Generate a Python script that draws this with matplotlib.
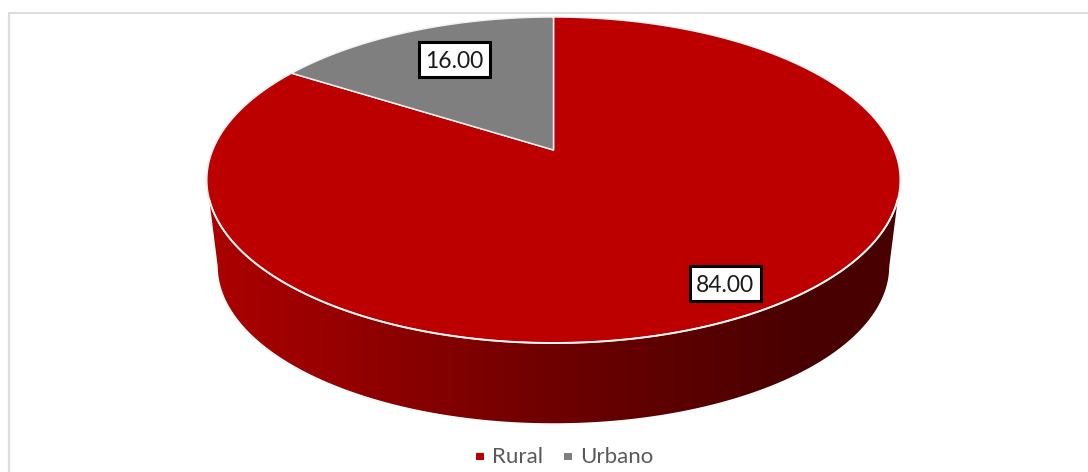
import numpy as np
import matplotlib.pyplot as plt
from matplotlib.patches import Polygon, Rectangle
from matplotlib.colors import LinearSegmentedColormap

labels = ["Rural", "Urbano"]
values = [84.00, 16.00]
value_text = ["84.00", "16.00"]
colors = ["#BC0000", "#7F7F7F"]

plt.rcParams['font.family'] = ['Lato', 'DejaVu Sans']

fig = plt.figure(figsize=(10.88, 4.72), dpi=100)
ax = fig.add_axes([0, 0, 1, 1])
ax.set_xlim(0, 1088)
ax.set_ylim(472, 0)
ax.axis('off')

# tilted disc: circle seen in perspective, so the centre sits above the middle
cx = 553.5
cy = 150
k = 0.184
def disc(t, scale_x=340.8, scale_y=157.5, y0=cy):
    u = np.sin(t)
    v = np.cos(t)
    d = 1 + k * v
    return np.column_stack([cx + scale_x * u / d, y0 - scale_y * v / d])

# chart frame
ax.plot([8.5, 8.5, 1088], [472, 12.5, 12.5], color="#DEDEDE", lw=1.6, zorder=1)

# side wall with gradient, clipped to the outline
top_rim = disc(np.linspace(np.pi / 2 + 0.3, 3 * np.pi / 2 - 0.3, 200))
low_rim = disc(np.linspace(np.pi / 2 + 0.19, 3 * np.pi / 2 - 0.19, 200), 330.0, 152.0, 237.0)
wall = np.vstack([top_rim, low_rim[::-1]])
cmap = LinearSegmentedColormap.from_list("wall", [(0, "#AC0000"), (0.2, "#950000"), (0.5, "#6E0000"), (0.85, "#4A0000"), (1, "#480000")])
im = ax.imshow(np.linspace(0, 1, 256)[None, :], extent=(207, 900, 472, 0), cmap=cmap, aspect='auto', zorder=2)
patch = Polygon(wall, closed=True, transform=ax.transData, fc='none', ec='none')
ax.add_patch(patch)
im.set_clip_path(patch)
ax.set_xlim(0, 1088)
ax.set_ylim(472, 0)

# slices, clockwise from the top, Rural first
start = 0.0
total = sum(values)
for val, col in zip(values, colors):
    end = start + 2 * np.pi * val / total
    t = np.linspace(start, end, 300)
    pts = np.vstack([[cx, cy], disc(t)])
    ax.add_patch(Polygon(pts, closed=True, fc=col, ec="#F2F2F2", lw=1.1, zorder=3, joinstyle='round'))
    start = end

# brighter line where the top meets the wall
ax.plot(*top_rim.T, color="#F4F4F4", lw=1.4, zorder=4)

# value labels
for (x0, y0), txt in zip([(689.5, 265.5), (418.5, 41.5)], value_text):
    ax.add_patch(Rectangle((x0, y0), 71, 35, fc="white", ec="black", lw=2.2, zorder=5))
    ax.text(x0 + 35.5, y0 + 19.5, txt, fontsize=16.5, color="#1A1A1A", ha='center', va='center', zorder=6)

# legend
ax.add_patch(Rectangle((476, 452.5), 7.5, 7.5, fc=colors[0], ec='none', zorder=4))
ax.text(492, 457, labels[0], fontsize=16, color="#595959", ha='left', va='center')
ax.add_patch(Rectangle((564, 452.5), 7.5, 7.5, fc=colors[1], ec='none', zorder=4))
ax.text(580, 457, labels[1], fontsize=16, color="#595959", ha='left', va='center')

fig.savefig("out.png", dpi=100, facecolor="white")
